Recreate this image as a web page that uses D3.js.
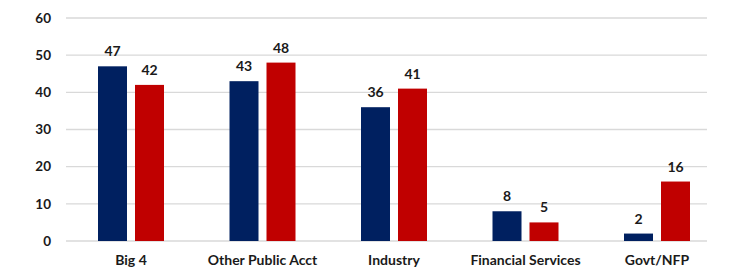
<!DOCTYPE html>
<html>
<head>
<meta charset="utf-8">
<script src="https://cdn.jsdelivr.net/npm/d3@7"></script>
<style>
  body { margin: 0; background: #fff; }
  text { font-family: Lato, "Open Sans", sans-serif; font-weight: bold; fill: #1a1a1a; }
</style>
</head>
<body>
<script>
const categories = ["Big 4", "Other Public Acct", "Industry", "Financial Services", "Govt/NFP"]
const seriesA = [47, 43, 36, 8, 2]
const seriesB = [42, 48, 41, 5, 16]
const yTicks = [0, 10, 20, 30, 40, 50, 60]
const colors = ["#002060", "#C00000"]

const W = 733, H = 272
const svg = d3.select("body").append("svg").attr("width", W).attr("height", H)

const x = d3.scaleBand().domain(categories).range([65.25, 722.75]).padding(0)
const inner = d3.scaleBand().domain([0, 1]).range([0, 66]).paddingInner(8 / 37)
const y = d3.scaleLinear().domain([0, 60]).range([241, 18])

// grid lines
svg.selectAll("line.grid").data(yTicks).enter().append("line")
    .attr("x1", 66).attr("x2", 707)
    .attr("y1", d => y(d)).attr("y2", d => y(d))
    .attr("stroke", "#d9d9d9").attr("stroke-width", 1.3)

// y tick labels
svg.selectAll("text.ytick").data(yTicks).enter().append("text")
    .attr("x", 51).attr("y", d => y(d)).attr("dy", "0.35em")
    .attr("text-anchor", "end").style("font-size", "13.5px")
    .text(d => d)

const rows = categories.map((c, i) => [seriesA[i], seriesB[i]])

const groups = svg.selectAll("g.cat").data(rows).enter().append("g")
    .attr("transform", (d, i) => "translate(" + (x(categories[i]) + x.bandwidth() / 2 - 33) + ",0)")

groups.selectAll("rect").data(d => d).enter().append("rect")
    .attr("x", (d, j) => inner(j))
    .attr("width", inner.bandwidth())
    .attr("y", d => y(d))
    .attr("height", d => y(0) - y(d))
    .attr("fill", (d, j) => colors[j])

groups.selectAll("text").data(d => d).enter().append("text")
    .attr("x", (d, j) => inner(j) + inner.bandwidth() / 2)
    .attr("y", d => y(d) - 10)
    .attr("text-anchor", "middle").style("font-size", "14px")
    .text(d => d)

// category labels
svg.selectAll("text.cat").data(categories).enter().append("text")
    .attr("x", d => x(d) + x.bandwidth() / 2)
    .attr("y", 260).attr("dy", "0.35em")
    .attr("text-anchor", "middle").style("font-size", "14px")
    .text(d => d)
</script>
</body>
</html>
